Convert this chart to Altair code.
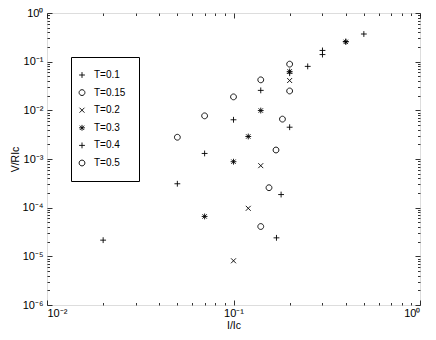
import altair as alt
import pandas as pd

# ---- data ----
series_names = ["T=0.1", "T=0.15", "T=0.2", "T=0.3", "T=0.4", "T=0.5"]

t01_I = [0.02, 0.05, 0.07, 0.1, 0.14, 0.2, 0.25, 0.3, 0.4, 0.5]
t01_V = [2.15e-5, 3.1e-4, 1.3e-3, 6.4e-3, 0.0257, 0.058, 0.08, 0.14, 0.26, 0.37]

t015_I = [0.05, 0.07, 0.1, 0.14, 0.2]
t015_V = [2.8e-3, 7.7e-3, 0.0189, 0.0423, 0.089]

t02_I = [0.1, 0.12, 0.14, 0.2]
t02_V = [8.1e-6, 9.7e-5, 7.3e-4, 0.041]

t03_I = [0.07, 0.1, 0.12, 0.14, 0.2, 0.4]
t03_V = [6.6e-5, 8.8e-4, 2.9e-3, 9.9e-3, 0.063, 0.255]

t04_I = [0.17, 0.18, 0.2, 0.3]
t04_V = [2.4e-5, 1.86e-4, 4.5e-3, 0.17]

t05_I = [0.14, 0.155, 0.169, 0.183, 0.2]
t05_V = [4.1e-5, 2.57e-4, 1.53e-3, 6.6e-3, 0.025]

x_major = [0.01, 0.1, 1]
y_major = [1e-6, 1e-5, 1e-4, 1e-3, 1e-2, 1e-1, 1]
x_ticks = [m * 10.0 ** e for e in (-2, -1) for m in range(1, 10)] + [1.0]
y_ticks = [m * 10.0 ** e for e in range(-6, 0) for m in range(1, 10)] + [1.0]

rows = []
for name, xs, ys in zip(series_names,
                        [t01_I, t015_I, t02_I, t03_I, t04_I, t05_I],
                        [t01_V, t015_V, t02_V, t03_V, t04_V, t05_V]):
    for a, b in zip(xs, ys):
        rows.append({"series": name, "I": a, "V": b})
df = pd.DataFrame(rows)

# ---- styling ----
FONT = "Liberation Sans"
W, H = 373, 292

PLUS = "M-1,0L1,0M0,-1L0,1"
CIRCLE = "M1,0A1,1,0,1,1,-1,0A1,1,0,1,1,1,0Z"
XMARK = "M-0.85,-0.85L0.85,0.85M-0.85,0.85L0.85,-0.85"
STAR = "M-1,0L1,0M0,-1L0,1M-0.75,-0.75L0.75,0.75M-0.75,0.75L0.75,-0.75"
shapes = [PLUS, CIRCLE, XMARK, STAR, PLUS, CIRCLE]

xscale = alt.Scale(type="log", domain=[0.01, 1], nice=False)
yscale = alt.Scale(type="log", domain=[1e-6, 1], nice=False)

E = "round(log(datum.value)/LN10)"
sup = {0: "⁰", -1: "⁻¹", -2: "⁻²", -3: "⁻³", -4: "⁻⁴", -5: "⁻⁵", -6: "⁻⁶"}
expr = "''"
for k, v in sup.items():
    expr = f"({E}=={k}?'{v}':{expr})"
label_expr = "'10' + " + expr

MAJOR = "abs(log(datum.value)/LN10 - round(log(datum.value)/LN10)) < 0.001"
tick_size = {"condition": {"test": MAJOR, "value": 5}, "value": 2.5}

points = alt.Chart(df).mark_point(filled=False, color="black", strokeWidth=0.9, size=34, opacity=1).encode(
    x=alt.X("I:Q", scale=xscale,
            axis=alt.Axis(orient="bottom", values=x_major, labelExpr=label_expr, ticks=False,
                          domain=False, grid=False, title="I/Ic", labelPadding=2,
                          labelFont=FONT, labelFontSize=11, labelColor="black",
                          titleFont=FONT, titleFontSize=10.5, titleFontWeight="normal",
                          titleColor="black", titlePadding=2)),
    y=alt.Y("V:Q", scale=yscale,
            axis=alt.Axis(orient="left", values=y_major, labelExpr=label_expr, ticks=False,
                          domain=False, grid=False, title="V/RIc", labelPadding=4,
                          labelFont=FONT, labelFontSize=11, labelColor="black",
                          titleFont=FONT, titleFontSize=10.5, titleFontWeight="normal",
                          titleColor="black", titlePadding=2)),
    shape=alt.Shape("series:N", scale=alt.Scale(domain=series_names, range=shapes),
                    legend=alt.Legend(title=None, orient="none", legendX=24, legendY=44,
                                      strokeColor="black", fillColor="white", padding=13,
                                      symbolSize=34, symbolStrokeColor="black",
                                      symbolStrokeWidth=0.9, symbolOffset=-7,
                                      labelOffset=7, rowPadding=7.6,
                                      labelFont=FONT, labelFontSize=10, labelColor="black")),
)


def tick_axis(orient, offset, vals):
    return alt.Axis(orient=orient, offset=offset, values=vals, labels=False, domain=False,
                    grid=False, ticks=True, tickColor="black", tickWidth=0.8,
                    tickSize=tick_size, title=None)


def ghost(xaxis=None, yaxis=None):
    return alt.Chart(df).mark_point(opacity=0).encode(
        x=alt.X("I:Q", scale=xscale, axis=xaxis),
        y=alt.Y("V:Q", scale=yscale, axis=yaxis),
    )


layers = [
    points,
    ghost(xaxis=tick_axis("top", -H, x_ticks)),
    ghost(xaxis=tick_axis("bottom", -H, x_ticks)),
    ghost(yaxis=tick_axis("right", -W, y_ticks)),
    ghost(yaxis=tick_axis("left", -W, y_ticks)),
]

chart = alt.layer(*layers).resolve_axis(x="independent", y="independent").properties(
    width=W, height=H,
    autosize="none",
    padding={"left": 39, "top": 5, "right": 8, "bottom": 27},
).configure_view(stroke="black", strokeWidth=1).configure(background="white")

chart.save("out.html", embed_options={"renderer": "svg", "actions": False})
